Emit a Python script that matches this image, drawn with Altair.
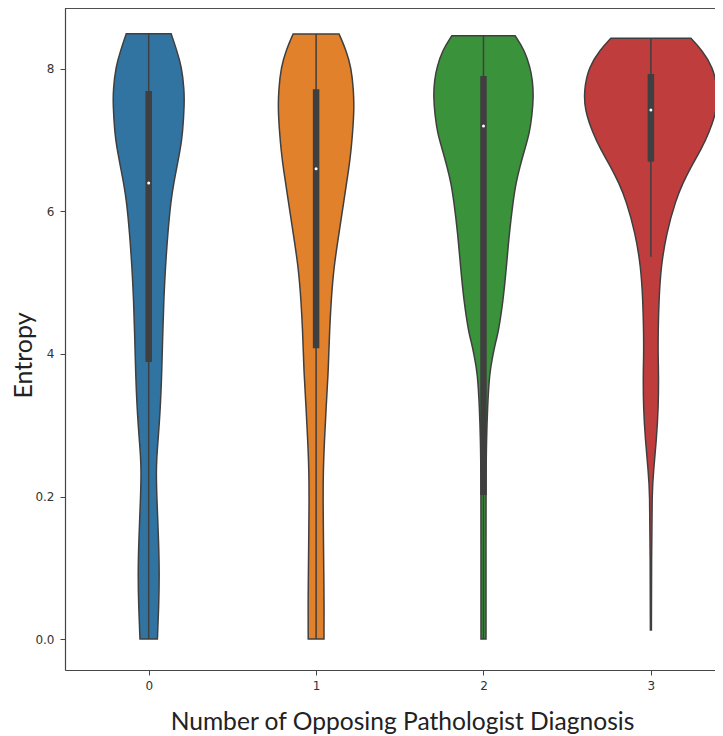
import json
import altair as alt
import pandas as pd

# ---------------- data ----------------
groups = [0, 1, 2, 3]
colors = ["#3274a1", "#e1812c", "#3a923a", "#c03d3e"]

# violin outlines: position on the (index) entropy axis and half width (x units)
v0_y = [4.248, 4.133, 4.014, 3.853, 3.749, 3.551, 3.432, 3.312, 3.200, 3.081, 2.849, 2.611,
        2.379, 2.147, 1.867, 1.628, 1.396, 1.277, 1.165, 1.004, 0.695, 0.463, 0.225, 0.000]
v0_w = [0.134, 0.167, 0.197, 0.212, 0.213, 0.203, 0.188, 0.168, 0.150, 0.133, 0.114, 0.100,
        0.090, 0.084, 0.078, 0.070, 0.056, 0.048, 0.045, 0.048, 0.059, 0.064, 0.060, 0.052]

v1_y = [4.246, 4.133, 4.014, 3.853, 3.712, 3.551, 3.432, 3.312, 3.081, 2.849, 2.611, 2.379,
        2.147, 2.007, 1.867, 1.628, 1.396, 1.165, 0.926, 0.695, 0.463, 0.225, 0.000]
v1_w = [0.137, 0.179, 0.209, 0.224, 0.227, 0.218, 0.209, 0.197, 0.167, 0.137, 0.106, 0.090,
        0.080, 0.076, 0.072, 0.060, 0.050, 0.042, 0.042, 0.044, 0.046, 0.048, 0.047]

v2_y = [4.234, 4.133, 4.014, 3.923, 3.804, 3.677, 3.551, 3.432, 3.312, 3.200, 3.081, 2.849,
        2.611, 2.379, 2.147, 2.098, 1.979, 1.867, 1.628, 1.396, 1.165, 0.600, 0.000]
v2_w = [0.189, 0.245, 0.278, 0.293, 0.299, 0.290, 0.275, 0.245, 0.217, 0.194, 0.178, 0.154,
        0.137, 0.118, 0.088, 0.075, 0.054, 0.036, 0.024, 0.018, 0.015, 0.015, 0.015]

v3_y = [4.215, 4.133, 4.014, 3.853, 3.712, 3.551, 3.432, 3.312, 3.200, 3.081, 2.849, 2.611,
        2.379, 2.147, 1.979, 1.867, 1.628, 1.396, 1.165, 1.046, 0.554, 0.063]
v3_w = [0.239, 0.305, 0.371, 0.400, 0.395, 0.347, 0.299, 0.239, 0.191, 0.149, 0.093, 0.060,
        0.048, 0.043, 0.043, 0.046, 0.045, 0.033, 0.015, 0.007, 0.004, 0.003]

box_low = [1.944, 2.040, 1.011, 3.350]
box_high = [3.846, 3.858, 3.951, 3.965]
medians = [3.200, 3.300, 3.600, 3.712]
whisker_low = [0.0, 0.0, 0.0, 2.683]
whisker_high = [4.248, 4.246, 4.234, 4.215]

y_tick_values = [0, 1, 2, 3, 4]
y_tick_labels = ["0.0", "0.2", "4", "6", "8"]
x_tick_values = [0, 1, 2, 3]

# ---------------- tables ----------------
rows = []
for g, ys, ws in zip(groups, [v0_y, v1_y, v2_y, v3_y], [v0_w, v1_w, v2_w, v3_w]):
    for yv, wv in zip(ys, ws):
        rows.append({"group": g, "y": yv, "x_lo": g - wv, "x_hi": g + wv})
vdf = pd.DataFrame(rows).sort_values(["group", "y"])

bdf = pd.DataFrame({
    "group": groups, "box_low": box_low, "box_high": box_high, "median": medians,
    "wlo": whisker_low, "whi": whisker_high,
})

xscale = alt.Scale(domain=[-0.5, 3.383], nice=False, zero=False)
yscale = alt.Scale(domain=[-0.2175, 4.428], nice=False, zero=False)

axis_common = dict(grid=False, domainColor="#444444", domainWidth=1.2, tickColor="#444444",
                   tickWidth=1, tickSize=5, labelFont="DejaVu Sans", labelFontSize=12,
                   labelColor="#333333", titleFont="Lato",
                   titleFontWeight="normal", titleColor="#222222")

yaxis = alt.Axis(values=y_tick_values,
                 labelExpr=json.dumps(y_tick_labels).replace('"', "'") + "[datum.value]",
                 title="Entropy", titleX=-34, titleY=347, titleAngle=270, titleFontSize=25,
                 titleAlign="center", titleBaseline="alphabetic", labelPadding=6,
                 **axis_common)
xaxis = alt.Axis(values=x_tick_values, format="d", labelAngle=0,
                 title="Number of Opposing Pathologist Diagnosis", titleX=337,
                 titleY=59, titleAlign="center", titleBaseline="alphabetic", titleFontSize=24.6,
                 labelPadding=5, **axis_common)

violins = alt.Chart(vdf).mark_area(
    orient="horizontal", interpolate="basis", stroke="#3f3f3f", strokeWidth=1.5,
    fillOpacity=1, clip=True,
).encode(
    y=alt.Y("y:Q", scale=yscale, axis=yaxis),
    x=alt.X("x_lo:Q", scale=xscale, axis=xaxis),
    x2="x_hi:Q",
    color=alt.Color("group:N", scale=alt.Scale(domain=groups, range=colors), legend=None),
)

whiskers = alt.Chart(bdf).mark_rule(color="#3f3f3f", strokeWidth=1.5).encode(
    x=alt.X("group:Q", scale=xscale, axis=xaxis),
    y=alt.Y("wlo:Q", scale=yscale, axis=yaxis),
    y2="whi:Q",
)

boxes = alt.Chart(bdf).mark_rule(color="#3f3f3f", strokeWidth=6.5, strokeCap="butt").encode(
    x=alt.X("group:Q", scale=xscale, axis=xaxis),
    y=alt.Y("box_low:Q", scale=yscale, axis=yaxis),
    y2="box_high:Q",
)

meds = alt.Chart(bdf).mark_circle(color="white", size=9, opacity=1).encode(
    x=alt.X("group:Q", scale=xscale, axis=xaxis),
    y=alt.Y("median:Q", scale=yscale, axis=yaxis),
)

top_spine = alt.Chart(bdf).mark_rule(color="#444444", strokeWidth=1.2).encode(
    x=alt.value(0), x2=alt.value(650), y=alt.value(0)
)

chart = alt.layer(violins, whiskers, boxes, meds, top_spine).properties(
    width=650, height=662,
    autosize=alt.AutoSizeParams(type="none"),
    padding={"left": 57, "top": 0, "right": 0, "bottom": 66},
    background="white",
).configure_view(stroke=None)

chart.save("out.html", embed_options={"renderer": "svg", "actions": False})
